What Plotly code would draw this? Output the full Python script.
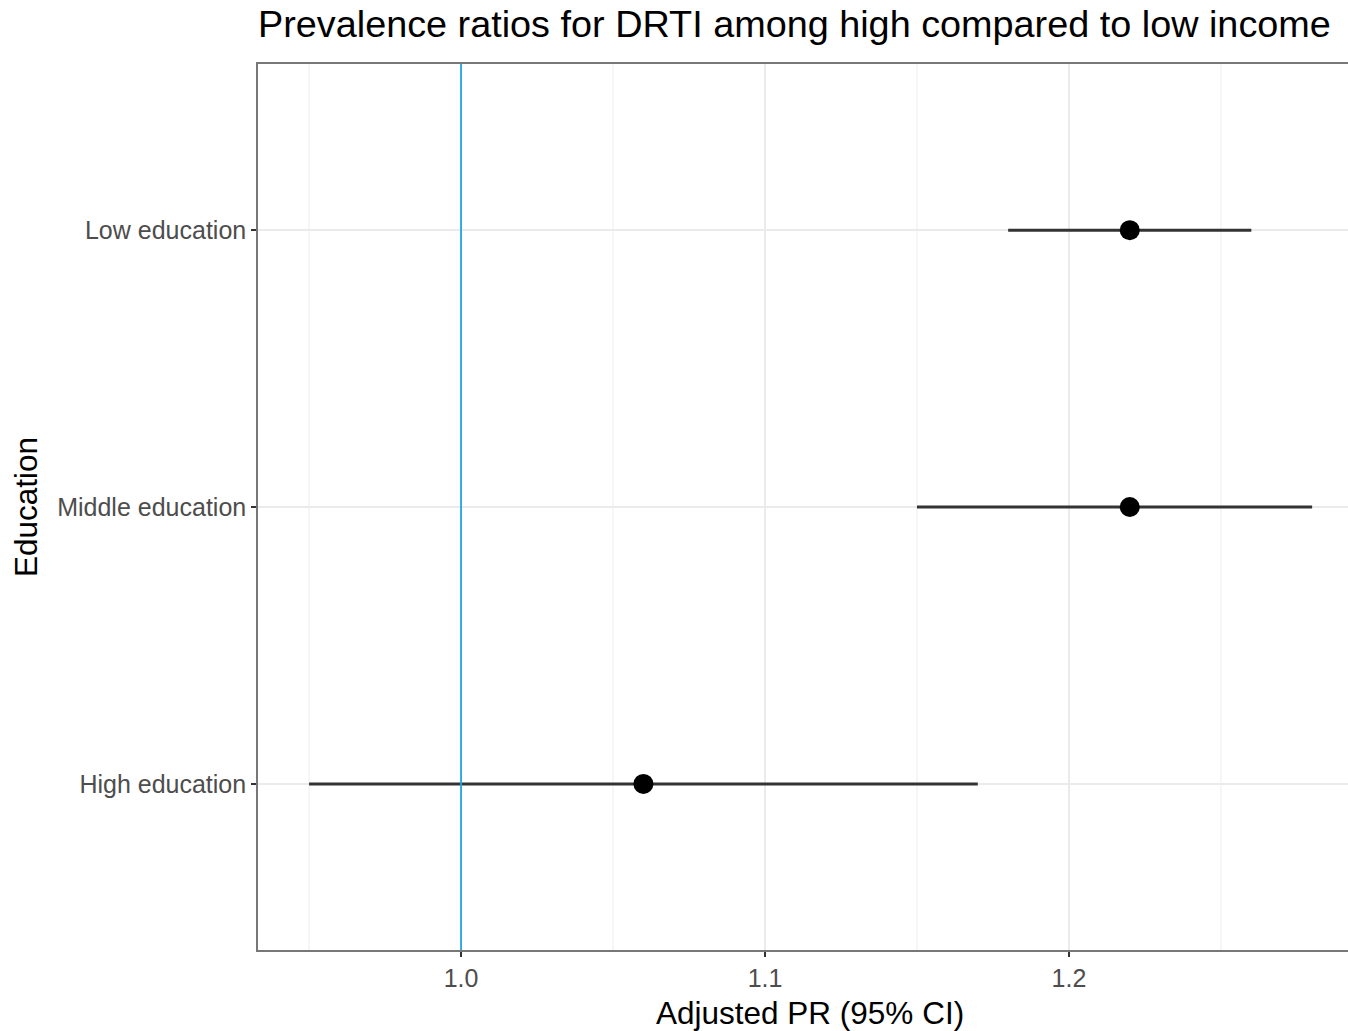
import plotly.graph_objects as go

categories = ["High education", "Middle education", "Low education"]
estimates = [1.06, 1.22, 1.22]
ci_low = [0.95, 1.15, 1.18]
ci_high = [1.17, 1.28, 1.26]
x_ticks = [1.0, 1.1, 1.2]
x_tick_labels = ["1.0", "1.1", "1.2"]
ref_value = 1.0

ypos = list(range(1, len(categories) + 1))

fig = go.Figure()

# CI segments
for y, lo, hi in zip(ypos, ci_low, ci_high):
    fig.add_trace(go.Scatter(
        x=[lo, hi], y=[y, y], mode="lines",
        line=dict(color="#333333", width=3),
        showlegend=False, hoverinfo="skip"))

fig.add_trace(go.Scatter(
    x=estimates, y=ypos, mode="markers",
    marker=dict(color="black", size=20),
    showlegend=False))

fig.add_vline(x=ref_value, line=dict(color="#22A5EA", width=1.8), layer="above")

minor_vals = [0.95, 1.05, 1.15, 1.25]
for v in minor_vals:
    fig.add_vline(x=v, line=dict(color="#f2f2f2", width=1.3), layer="below")

font_family = "Liberation Sans, Arial, sans-serif"

fig.update_layout(
    width=1348, height=1031,
    margin=dict(l=258, r=0, t=64, b=81),
    plot_bgcolor="white", paper_bgcolor="white",
    font=dict(family=font_family),
    title=dict(
        text="Prevalence ratios for DRTI among high compared to low income",
        x=258 / 1348, xanchor="left", y=1 - 24 / 1031, yanchor="middle",
        font=dict(size=37.8, color="black", family=font_family)),
    xaxis=dict(
        range=[0.9332, 1.2918],
        tickvals=x_ticks, ticktext=x_tick_labels,
        showgrid=True, gridcolor="#ebebeb", gridwidth=1.8,
        zeroline=False,
        showline=True, linecolor="#777777", linewidth=1.6, mirror=True,
        ticks="outside", ticklen=5, tickcolor="#333333", tickwidth=1.6,
        tickfont=dict(size=25, color="#4d4d4d"),
    ),
    yaxis=dict(
        range=[0.4, 3.6],
        tickvals=ypos, ticktext=categories,
        showgrid=True, gridcolor="#ebebeb", gridwidth=1.8,
        zeroline=False,
        showline=True, linecolor="#777777", linewidth=1.6,
        ticks="outside", ticklen=5, tickcolor="#333333", tickwidth=1.6,
        tickfont=dict(size=25, color="#4d4d4d"),
        title=dict(text="Education", font=dict(size=31.5, color="black"), standoff=10),
    ),
    annotations=[dict(
        text="Adjusted PR (95% CI)", xref="paper", yref="paper",
        x=(810 - 258) / 1090, y=-(1013 - 950) / 886,
        xanchor="center", yanchor="middle", showarrow=False,
        font=dict(size=31.5, color="black", family=font_family))],
)

fig.write_html(
    "out.html",
    config={"displayModeBar": False},
    post_script="document.body.style.margin='0';document.body.style.overflow='hidden';",
)
